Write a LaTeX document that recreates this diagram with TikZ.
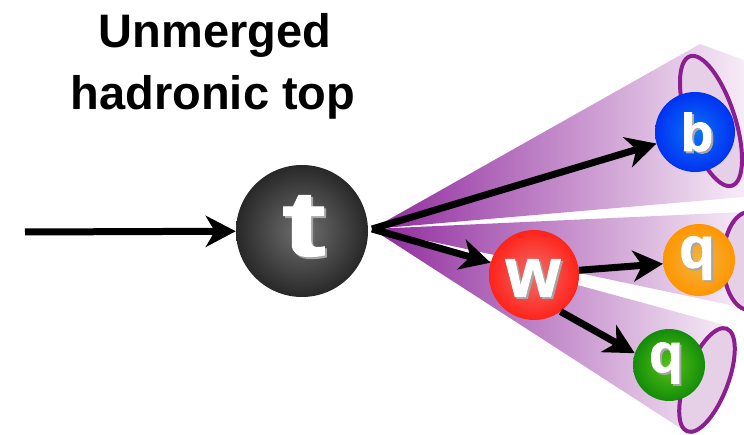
\documentclass[tikz,border=0pt]{standalone}
\usepackage{fontspec}
\usepackage{graphicx}
\setmainfont{Liberation Sans}
\newfontfamily\ballfont{Liberation Sans Bold}[FakeBold=1.5]
\usetikzlibrary{arrows.meta}

\definecolor{conedark}{RGB}{142,40,156}
\definecolor{conelight}{RGB}{247,236,247}
\definecolor{rim}{RGB}{140,30,145}
\definecolor{rimfill}{RGB}{230,208,232}

\tikzset{
  ball/.style={circle, inner sep=0pt, minimum size=#1},
  flow/.style={line width=7pt, -{Stealth[length=30pt,width=31pt,inset=9pt]}},
  cone/.style={left color=conedark, right color=conelight},
  jetrim/.style={draw=rim, line width=4pt, fill=rimfill},
  letter/.style={text=white, inner sep=0pt, font=\ballfont\fontsize{#1}{#1}\selectfont},
  heading/.style={inner sep=0pt, anchor=base, font=\bfseries\fontsize{47}{56}\selectfont},
}

% white glyph with a soft dark drop shadow behind it
\newcommand\shadowtext[1]{\rlap{\smash{\hspace*{2pt}\raisebox{-2pt}{\color{black!35}#1}}}#1}

\begin{document}
\begin{tikzpicture}[x=1pt,y=-1pt]
\useasboundingbox (0,0) rectangle (744,435);
\clip (0,0) rectangle (744,435);

% heading
\node[heading] (title1) at (215,48) {Unmerged};
\node[heading] (title2) at (213,110) {hadronic top};

\coordinate (v) at (372,229);
\coordinate (src) at (25,232);

% jet cones
\shade[cone] (v) -- (700,44) -- (744,60) -- (744,197) -- cycle;
\shade[cone] (v) -- (744,212) -- (744,308) -- cycle;
\shade[cone] (v) -- (728,326) -- (688,433) -- cycle;

% jet openings
\draw[jetrim, rotate around={18:(711,121)}] (711,121) ellipse [x radius=24, y radius=68];
\draw[jetrim] (749,261) ellipse [x radius=26, y radius=49];
\draw[jetrim, rotate around={-21:(707,380)}] (707,380) ellipse [x radius=21, y radius=55];

% particles
\node[ball=132pt, inner color={rgb,255:red,112;green,112;blue,112}, outer color={rgb,255:red,40;green,40;blue,40}] (t) at (302,231) {};
\node[ball=80pt, inner color={rgb,255:red,10;green,115;blue,250}, outer color={rgb,255:red,0;green,50;blue,240}] (b) at (695,132) {};
\node[ball=90pt, inner color={rgb,255:red,240;green,110;blue,110}, outer color={rgb,255:red,255;green,35;blue,25}] (W) at (534,275) {};
\node[ball=72pt, inner color={rgb,255:red,240;green,180;blue,70}, outer color={rgb,255:red,255;green,150;blue,0}] (qo) at (699,260) {};
\node[ball=72pt, inner color={rgb,255:red,85;green,195;blue,20}, outer color={rgb,255:red,20;green,140;blue,10}] (qg) at (669,365) {};

% decay arrows
\draw[flow] (src) -- (t);
\draw[flow] (v) -- (b);
\draw[flow] (v) -- (W);
\draw[flow] (W.6) -- (qo.186);
\draw[flow] (W.-54) -- (qg.161);

% particle labels
\node[letter=92] (tl) at (304,226) {\shadowtext{\scalebox{1.4}[1]{t}}};
\node[letter=70] (wl) at (533,278) {\shadowtext{w}};
\node[letter=53] (bl) at (697,132) {\shadowtext{b}};
\node[letter=58] (qol) at (697,258) {\shadowtext{q}};
\node[letter=55] (qgl) at (666,363) {\shadowtext{q}};
\end{tikzpicture}
\end{document}
